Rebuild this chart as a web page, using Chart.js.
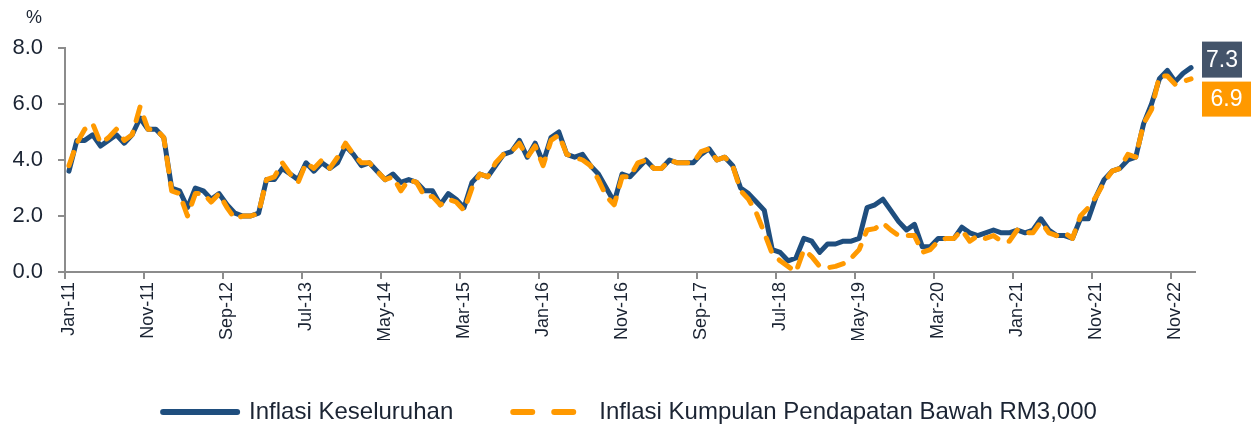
<!DOCTYPE html>
<html>
<head>
<meta charset="utf-8">
<script src="https://cdn.jsdelivr.net/npm/chart.js@4.4.1/dist/chart.umd.min.js"></script>
<style>
  html, body { margin: 0; padding: 0; background: #fff; }
  #wrap { width: 1256px; height: 431px; }
</style>
</head>
<body>
<div id="wrap"><canvas id="myChart" width="1256" height="431"></canvas></div>
<script>
// axis labels shown every 10 months
var tickLabels = ["Jan-11", "Nov-11", "Sep-12", "Jul-13", "May-14", "Mar-15", "Jan-16", "Nov-16",
  "Sep-17", "Jul-18", "May-19", "Mar-20", "Jan-21", "Nov-21", "Nov-22"];

// Inflasi Keseluruhan (%), monthly
var inflasiKeseluruhan = [
  3.6, 4.7, 4.7, 4.9, 4.5, 4.7, 4.9, 4.6, 4.9, 5.5,
  5.1, 5.1, 4.8, 3.0, 2.9, 2.3, 3.0, 2.9, 2.6, 2.8,
  2.4, 2.1, 2.0, 2.0, 2.1, 3.3, 3.3, 3.7, 3.5, 3.3,
  3.9, 3.6, 3.9, 3.7, 3.9, 4.5, 4.2, 3.8, 3.9, 3.6,
  3.3, 3.5, 3.2, 3.3, 3.2, 2.9, 2.9, 2.4, 2.8, 2.6,
  2.3, 3.2, 3.5, 3.4, 3.8, 4.2, 4.3, 4.7, 4.1, 4.6,
  3.9, 4.8, 5.0, 4.2, 4.1, 4.2, 3.8, 3.5, 3.0, 2.5,
  3.5, 3.4, 3.7, 4.0, 3.7, 3.7, 4.0, 3.9, 3.9, 3.9,
  4.2, 4.4, 4.0, 4.1, 3.8, 3.0, 2.8, 2.5, 2.2, 0.8,
  0.7, 0.4, 0.5, 1.2, 1.1, 0.7, 1.0, 1.0, 1.1, 1.1,
  1.2, 2.3, 2.4, 2.6, 2.2, 1.8, 1.5, 1.7, 0.9, 0.9,
  1.2, 1.2, 1.2, 1.6, 1.4, 1.3, 1.4, 1.5, 1.4, 1.4,
  1.5, 1.4, 1.5, 1.9, 1.5, 1.3, 1.3, 1.2, 1.9, 1.9,
  2.7, 3.3, 3.6, 3.7, 4.0, 4.1, 5.3, 6.0, 6.9, 7.2,
  6.8, 7.1, 7.3
];

// Inflasi Kumpulan Pendapatan Bawah RM3,000 (%), monthly
var inflasiB40 = [
  3.8, 4.6, 5.1, 5.3, 4.6, 4.8, 5.1, 4.7, 4.9, 5.9,
  5.1, 5.1, 4.8, 2.9, 2.8, 2.0, 2.8, 2.8, 2.5, 2.8,
  2.3, 1.9, 2.0, 2.0, 2.1, 3.3, 3.4, 3.9, 3.5, 3.2,
  3.9, 3.7, 4.0, 3.7, 4.1, 4.6, 4.2, 3.9, 3.9, 3.6,
  3.3, 3.4, 2.9, 3.3, 3.2, 2.7, 2.7, 2.4, 2.6, 2.5,
  2.2, 3.0, 3.5, 3.4, 3.9, 4.2, 4.3, 4.6, 4.1, 4.5,
  3.8, 4.7, 4.9, 4.2, 4.1, 4.0, 3.8, 3.3, 2.7, 2.4,
  3.4, 3.4, 3.9, 4.0, 3.7, 3.7, 4.0, 3.9, 3.9, 3.9,
  4.3, 4.4, 4.0, 4.1, 3.8, 2.9, 2.6, 2.1, 1.4, 0.65,
  0.4, 0.2, 0.0, 0.8, 0.55, 0.2, 0.15, 0.2, 0.3, 0.5,
  0.8, 1.5, 1.55, 1.75, 1.5, 1.3, 1.3, 1.3, 0.7, 0.8,
  1.1, 1.2, 1.2, 1.5, 1.1, 1.3, 1.2, 1.3, 1.1, 1.1,
  1.5, 1.4, 1.4, 1.8, 1.4, 1.3, 1.4, 1.2, 2.0, 2.3,
  2.7, 3.2, 3.6, 3.7, 4.2, 4.1, 5.3, 5.8, 7.0, 7.0,
  6.7, 6.8, 6.9
];

var monthNames = ["Jan", "Feb", "Mar", "Apr", "May", "Jun", "Jul", "Aug", "Sep", "Oct", "Nov", "Dec"];
var categories = [];
for (var i = 0; i < inflasiKeseluruhan.length; i++) {
  categories.push(monthNames[i % 12] + "-" + (11 + Math.floor(i / 12)));
}

var blue = "#1F4E7E";
var orange = "#FF9900";
var axisGrey = "#8C8C8C";
var textColor = "#1B2433";
var fontFamily = "'Liberation Sans', Arial, sans-serif";

// % label at top and the boxed end values
var extras = {
  id: "extras",
  afterDraw: function(chart) {
    var ctx = chart.ctx;
    var yScale = chart.scales.y;
    ctx.save();
    ctx.fillStyle = textColor;
    ctx.font = "18px " + fontFamily;
    ctx.textAlign = "left";
    ctx.textBaseline = "middle";
    ctx.fillText("%", 26, 18);

    var last1 = inflasiKeseluruhan[inflasiKeseluruhan.length - 1];
    var last2 = inflasiB40[inflasiB40.length - 1];
    var bx = chart.chartArea.right + 7;
    var top1 = yScale.getPixelForValue(last1) - 26;
    var boxes = [
      { top: top1, w: 40, h: 36, color: "#44546A", text: last1.toFixed(1) },
      { top: top1 + 40, w: 49, h: 35, color: orange, text: last2.toFixed(1) }
    ];
    ctx.font = "23px " + fontFamily;
    ctx.textAlign = "center";
    boxes.forEach(function(b) {
      ctx.fillStyle = b.color;
      ctx.fillRect(bx, b.top, b.w, b.h);
      ctx.fillStyle = "#FFFFFF";
      ctx.fillText(b.text, bx + b.w / 2, b.top + b.h / 2 + 1);
    });
    ctx.restore();
  }
};

var ctx = document.getElementById("myChart").getContext("2d");
var myChart = new Chart(ctx, {
  type: "line",
  data: {
    labels: categories,
    datasets: [
      {
        label: "Inflasi Keseluruhan",
        data: inflasiKeseluruhan,
        borderColor: blue,
        backgroundColor: blue,
        borderWidth: 5,
        borderCapStyle: "round",
        borderJoinStyle: "round",
        pointRadius: 0,
        pointStyle: "line",
        tension: 0,
        clip: false,
        order: 2
      },
      {
        label: "Inflasi Kumpulan Pendapatan Bawah RM3,000",
        data: inflasiB40,
        borderColor: orange,
        backgroundColor: orange,
        borderWidth: 5,
        borderDash: [14, 12],
        borderCapStyle: "round",
        borderJoinStyle: "round",
        pointRadius: 0,
        pointStyle: "line",
        tension: 0,
        clip: false,
        order: 1
      }
    ]
  },
  options: {
    responsive: false,
    animation: false,
    layout: { padding: { top: 48, right: 61, left: 0, bottom: -3 } },
    plugins: {
      tooltip: { enabled: false },
      legend: {
        position: "bottom",
        fullSize: false,
        labels: {
          usePointStyle: true,
          pointStyleWidth: 74,
          padding: 60,
          color: textColor,
          font: { family: fontFamily, size: 24 },
          sort: function(a, b) { return a.datasetIndex - b.datasetIndex; },
          generateLabels: function(chart) {
            var items = Chart.defaults.plugins.legend.labels.generateLabels(chart);
            items.forEach(function(item) {
              var ds = chart.data.datasets[item.datasetIndex];
              item.lineWidth = 6;
              item.strokeStyle = ds.borderColor;
              item.lineCap = "round";
              item.lineDash = ds.borderDash ? [19, 22] : [];
            });
            return items;
          }
        }
      }
    },
    scales: {
      x: {
        type: "category",
        offset: true,
        afterFit: function(scale) { scale.height = 68; },
        border: { display: true, color: axisGrey, width: 2 },
        grid: {
          offset: true,
          drawOnChartArea: false,
          drawTicks: true,
          tickLength: 7,
          lineWidth: 2,
          color: function(c) { return c.index % 10 === 0 ? axisGrey : "rgba(0,0,0,0)"; }
        },
        ticks: {
          autoSkip: false,
          minRotation: 90,
          maxRotation: 90,
          padding: 3,
          color: textColor,
          font: { family: fontFamily, size: 18 },
          callback: function(val, idx) {
            return idx % 10 === 0 ? tickLabels[idx / 10] : "";
          }
        }
      },
      y: {
        min: 0,
        max: 8,
        afterFit: function(scale) { scale.width = 65; },
        border: { display: true, color: axisGrey, width: 2 },
        grid: {
          drawOnChartArea: false,
          drawTicks: true,
          tickLength: 7,
          lineWidth: 2,
          color: axisGrey
        },
        ticks: {
          stepSize: 2,
          padding: 15,
          color: textColor,
          font: { family: fontFamily, size: 22 },
          callback: function(v) { return v.toFixed(1); }
        }
      }
    }
  },
  plugins: [extras]
});
</script>
</body>
</html>
